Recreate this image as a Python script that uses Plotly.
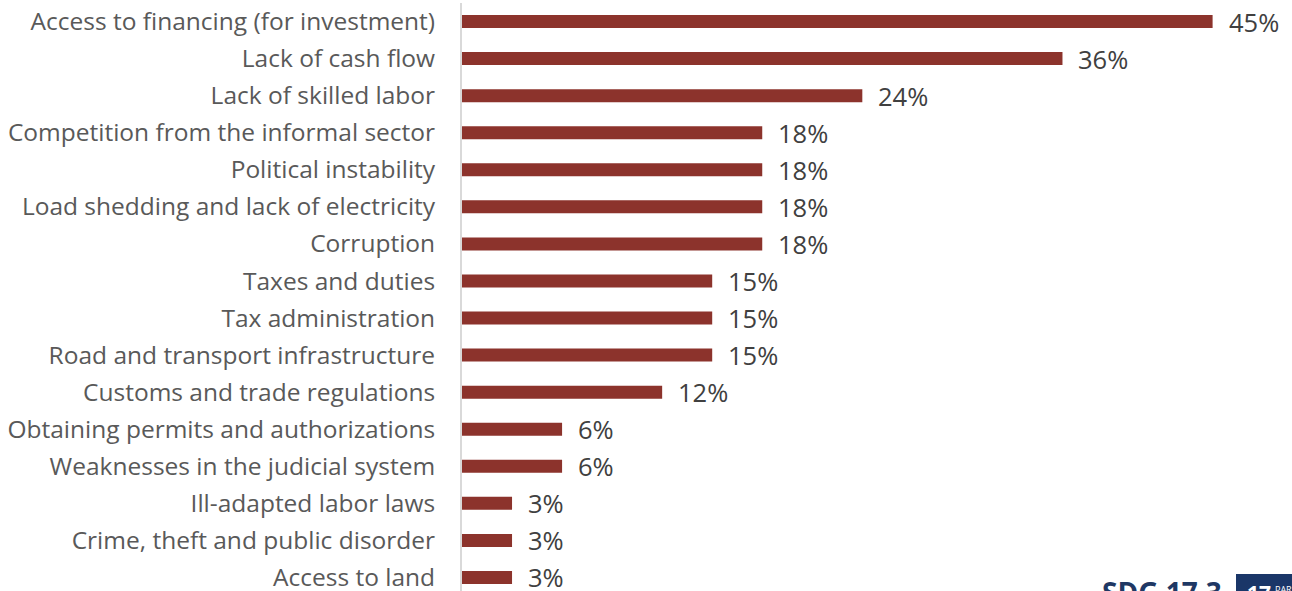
import plotly.graph_objects as go

categories = [
    "Access to financing (for investment)", "Lack of cash flow", "Lack of skilled labor",
    "Competition from the informal sector", "Political instability",
    "Load shedding and lack of electricity", "Corruption", "Taxes and duties",
    "Tax administration", "Road and transport infrastructure",
    "Customs and trade regulations", "Obtaining permits and authorizations",
    "Weaknesses in the judicial system", "Ill-adapted labor laws",
    "Crime, theft and public disorder", "Access to land",
]
values = [45, 36, 24, 18, 18, 18, 18, 15, 15, 15, 12, 6, 6, 3, 3, 3]

FONT = "Open Sans"
W, H = 1292, 596
LEFT, TOP = 462, 2.5

fig = go.Figure(go.Bar(
    x=values, y=categories, orientation="h",
    marker=dict(color="#8C332C", line=dict(width=0)),
    hoverinfo="skip",
))

# Percentage labels sit just past the end of each bar
annotations = [
    dict(x=v, y=c, xref="x", yref="y", text=f"{v}%", showarrow=False,
         xanchor="left", yanchor="middle", xshift=14, yshift=0,
         font=dict(family=FONT, size=25.5, color="#404040"))
    for c, v in zip(categories, values)
]

# SDG target badge in the bottom-right corner
annotations.append(dict(
    x=1224, y=571, xref="paper", yref="paper", text="<b>SDG 17.3</b>", showarrow=False,
    xanchor="right", yanchor="top", font=dict(family=FONT, size=28, color="#1F3864"),
))
annotations.append(dict(
    x=1245, y=577, xref="paper", yref="paper", text="<b>17</b>", showarrow=False,
    xanchor="left", yanchor="top", font=dict(family=FONT, size=21, color="#FFFFFF"),
))
annotations.append(dict(
    x=1273, y=581, xref="paper", yref="paper", text="PAR", showarrow=False,
    xanchor="left", yanchor="top", font=dict(family=FONT, size=9, color="#FFFFFF"),
))

plot_w, plot_h = W - LEFT, H - TOP
for a in annotations[-3:]:
    a["x"] = (a["x"] - LEFT) / plot_w
    a["y"] = 1 - (a["y"] - TOP) / plot_h

fig.update_layout(
    width=W, height=H, bargap=0.65, showlegend=False,
    margin=dict(l=LEFT, r=0, t=TOP, b=0, pad=0),
    paper_bgcolor="white", plot_bgcolor="white",
    font=dict(family=FONT),
    annotations=annotations,
    shapes=[dict(
        type="rect", xref="paper", yref="paper", layer="below", line_width=0,
        fillcolor="#1A3668",
        x0=(1236 - LEFT) / plot_w, x1=1,
        y0=0, y1=1 - (574 - TOP) / plot_h,
    )],
)
fig.update_xaxes(range=[0, 49.76], visible=False)
fig.update_yaxes(
    type="category", categoryorder="array", categoryarray=categories,
    range=[15.5, -0.5], showgrid=False, zeroline=False,
    showline=True, linecolor="#D9D9D9", linewidth=2,
    ticks="", ticklabelstandoff=20,
    tickfont=dict(family=FONT, size=24.5, color="#595959"),
)

fig.write_html("out.html", config=dict(displayModeBar=False))
